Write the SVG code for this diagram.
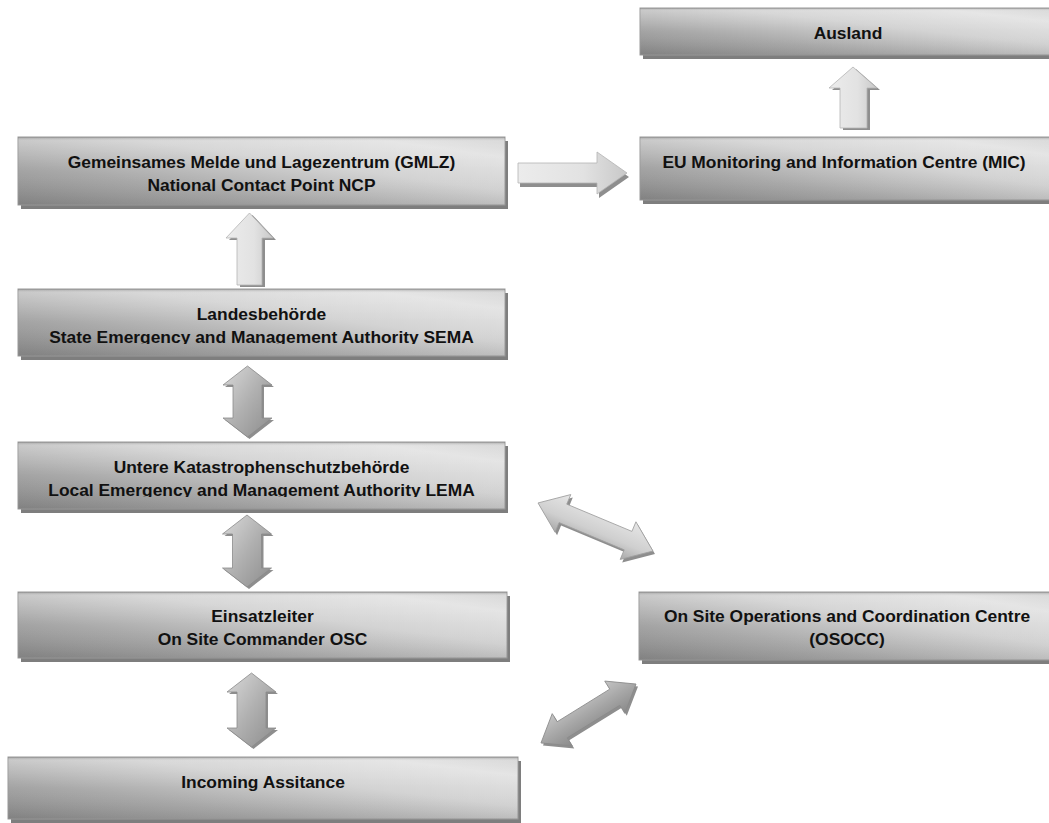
<svg xmlns="http://www.w3.org/2000/svg" width="1049" height="823" viewBox="0 0 1049 823">
<style>
.shadow{fill:#7e7e7e}
.box{fill:url(#boxg);stroke:#9a9a9a;stroke-width:1}
.sheen{fill:url(#sheen)}
.t{font-family:"Liberation Sans",Arial,sans-serif;font-weight:bold;font-size:17.4px;fill:#111;text-anchor:middle}
.ash{fill:#8e8e8e}
.alight{fill:url(#lightg);stroke:#b4b4b4;stroke-width:0.8}
.adark{fill:url(#darkg);stroke:#8a8a8a;stroke-width:0.8}
.adiag1{fill:url(#diag1g);stroke:#a0a0a0;stroke-width:0.8}
.adiag2{fill:url(#diag2g);stroke:#8a8a8a;stroke-width:0.8}
</style>
<defs>
<linearGradient id="boxg" x1="0" y1="1" x2="1" y2="0">
<stop offset="0" stop-color="#868686"/>
<stop offset="0.3" stop-color="#a9a9a9"/>
<stop offset="0.6" stop-color="#d3d3d3"/>
<stop offset="0.85" stop-color="#e3e3e3"/>
<stop offset="1" stop-color="#d2d2d2"/>
</linearGradient>
<linearGradient id="sheen" x1="0" y1="0" x2="0" y2="1">
<stop offset="0" stop-color="#6a6a6a" stop-opacity="0.45"/>
<stop offset="0.06" stop-color="#ffffff" stop-opacity="0.12"/>
<stop offset="0.5" stop-color="#ffffff" stop-opacity="0"/>
<stop offset="1" stop-color="#000000" stop-opacity="0.04"/>
</linearGradient>
<linearGradient id="lightg" x1="0" y1="0" x2="1" y2="0">
<stop offset="0" stop-color="#ececec"/>
<stop offset="0.6" stop-color="#e2e2e2"/>
<stop offset="1" stop-color="#c8c8c8"/>
</linearGradient>
<linearGradient id="darkg" x1="0" y1="0" x2="1" y2="1">
<stop offset="0" stop-color="#dadada"/>
<stop offset="0.5" stop-color="#b0b0b0"/>
<stop offset="1" stop-color="#8c8c8c"/>
</linearGradient>
<linearGradient id="diag1g" x1="0" y1="0" x2="0" y2="1">
<stop offset="0" stop-color="#e6e6e6"/>
<stop offset="0.6" stop-color="#cfcfcf"/>
<stop offset="1" stop-color="#a8a8a8"/>
</linearGradient>
<linearGradient id="diag2g" x1="0" y1="0" x2="0" y2="1">
<stop offset="0" stop-color="#c4c4c4"/>
<stop offset="0.5" stop-color="#a6a6a6"/>
<stop offset="1" stop-color="#8a8a8a"/>
</linearGradient>
<clipPath id="clipLandes"><rect x="18" y="289" width="487" height="55"/></clipPath>
<clipPath id="clipLema"><rect x="18" y="442" width="487" height="55"/></clipPath>
<path id="upA" d="M249.5,213 L273,238 L262,238 L262,285 L237,285 L237,238 L226,238 Z"/>
<path id="upB" d="M853,67 L877,88 L867,88 L867,128 L840,128 L840,88 L829,88 Z"/>
<path id="rightA" d="M518,163 L597,163 L597,152 L627,173 L597,194 L597,183 L518,183 Z"/>
<path id="dblA" d="M247.5,366 L272,385 L262,385 L262,418 L272,418 L247.5,437 L223,418 L233,418 L233,385 L223,385 Z"/>
<path id="dblB" d="M247,515 L271.5,534 L261.5,534 L261.5,568 L271.5,568 L247,587 L222.5,568 L232.5,568 L232.5,534 L222.5,534 Z"/>
<path id="dblC" d="M251.5,673 L276,692 L266,692 L266,728 L276,728 L251.5,747 L227,728 L237,728 L237,692 L227,692 Z"/>
<path id="diag1" d="M-62.3,0 L-35.3,-20.4 L-35.3,-10 L35.3,-10 L35.3,-20.4 L62.3,0 L35.3,20.4 L35.3,10 L-35.3,10 L-35.3,20.4 Z"/>
<path id="diag2" d="M-55.9,0 L-30.9,-19 L-30.9,-9.5 L30.9,-9.5 L30.9,-19 L55.9,0 L30.9,19 L30.9,9.5 L-30.9,9.5 L-30.9,19 Z"/>
</defs>
<rect width="1049" height="823" fill="#ffffff"/>

<g id="connectors">
<use href="#upA" class="ash" transform="translate(3,2)"/>
<use href="#upA" class="alight"/>
<use href="#upB" class="ash" transform="translate(3,2)"/>
<use href="#upB" class="alight"/>
<use href="#rightA" class="ash" transform="translate(2,4)"/>
<use href="#rightA" class="alight"/>
<use href="#dblA" class="ash" transform="translate(2,2)"/>
<use href="#dblA" class="adark"/>
<use href="#dblB" class="ash" transform="translate(2,2)"/>
<use href="#dblB" class="adark"/>
<use href="#dblC" class="ash" transform="translate(2,2)"/>
<use href="#dblC" class="adark"/>
<use href="#diag1" class="ash" transform="translate(597.5,530) rotate(22.7)"/>
<use href="#diag1" class="adiag1" transform="translate(595.5,527) rotate(22.7)"/>
<use href="#diag2" class="ash" transform="translate(590.5,716) rotate(-31.8)"/>
<use href="#diag2" class="adiag2" transform="translate(588.5,713.5) rotate(-31.8)"/>
</g>

<g id="ausland">
<rect class="shadow" x="643" y="12" width="416" height="47"/>
<rect class="box" x="640" y="8" width="416" height="47"/>
<rect class="sheen" x="640" y="8" width="416" height="47"/>
<text class="t" x="848" y="39">Ausland</text>
</g>

<g id="mic">
<rect class="shadow" x="643" y="141" width="416" height="63"/>
<rect class="box" x="640" y="137" width="416" height="63"/>
<rect class="sheen" x="640" y="137" width="416" height="63"/>
<text class="t" x="844" y="168">EU Monitoring and Information Centre (MIC)</text>
</g>

<g id="gmlz">
<rect class="shadow" x="21" y="141" width="487" height="68"/>
<rect class="box" x="18" y="137" width="487" height="68"/>
<rect class="sheen" x="18" y="137" width="487" height="68"/>
<text class="t" x="261.5" y="168">Gemeinsames Melde und Lagezentrum (GMLZ)</text>
<text class="t" x="261.5" y="191">National Contact Point NCP</text>
</g>

<g id="landes">
<rect class="shadow" x="21" y="293" width="487" height="67"/>
<rect class="box" x="18" y="289" width="487" height="67"/>
<rect class="sheen" x="18" y="289" width="487" height="67"/>
<g clip-path="url(#clipLandes)">
<text class="t" x="261.5" y="320">Landesbehörde</text>
<text class="t" x="261.5" y="343">State Emergency and Management Authority SEMA</text>
</g>
</g>

<g id="lema">
<rect class="shadow" x="21" y="446" width="487" height="67"/>
<rect class="box" x="18" y="442" width="487" height="67"/>
<rect class="sheen" x="18" y="442" width="487" height="67"/>
<g clip-path="url(#clipLema)">
<text class="t" x="261.5" y="473">Untere Katastrophenschutzbehörde</text>
<text class="t" x="261.5" y="496">Local Emergency and Management Authority LEMA</text>
</g>
</g>

<g id="einsatz">
<rect class="shadow" x="21" y="596" width="489" height="66"/>
<rect class="box" x="18" y="592" width="489" height="66"/>
<rect class="sheen" x="18" y="592" width="489" height="66"/>
<text class="t" x="262.5" y="622">Einsatzleiter</text>
<text class="t" x="262.5" y="645">On Site Commander OSC</text>
</g>

<g id="osocc">
<rect class="shadow" x="642" y="596" width="417" height="68"/>
<rect class="box" x="639" y="592" width="417" height="68"/>
<rect class="sheen" x="639" y="592" width="417" height="68"/>
<text class="t" x="847" y="622">On Site Operations and Coordination Centre</text>
<text class="t" x="847" y="645">(OSOCC)</text>
</g>

<g id="incoming">
<rect class="shadow" x="11" y="761" width="510" height="62"/>
<rect class="box" x="8" y="757" width="510" height="62"/>
<rect class="sheen" x="8" y="757" width="510" height="62"/>
<text class="t" x="263" y="788">Incoming Assitance</text>
</g>
</svg>
